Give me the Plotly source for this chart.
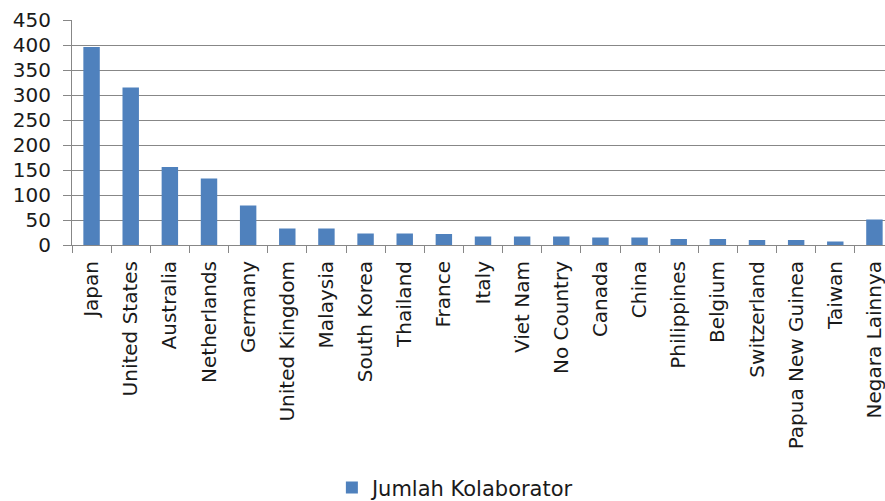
import plotly.graph_objects as go

countries = [
    'Japan', 'United States', 'Australia', 'Netherlands', 'Germany',
    'United Kingdom', 'Malaysia', 'South Korea', 'Thailand', 'France',
    'Italy', 'Viet Nam', 'No Country', 'Canada', 'China', 'Philippines',
    'Belgium', 'Switzerland', 'Papua New Guinea', 'Taiwan', 'Negara Lainnya',
]
collaborators = [396, 315, 156, 133, 79, 33, 33, 23, 23, 22,
                 17, 17, 17, 15, 15, 12, 12, 10, 10, 7, 51]
y_ticks = [0, 50, 100, 150, 200, 250, 300, 350, 400, 450]

FONT = 'DejaVu Sans'
GRID = '#878787'

fig = go.Figure()
fig.add_trace(go.Bar(
    x=countries, y=collaborators,
    name='Jumlah Kolaborator',
    marker=dict(color='#4f81bd', line=dict(width=0)),
    width=0.42,
))
fig.update_layout(
    width=885, height=501,
    paper_bgcolor='white', plot_bgcolor='white',
    margin=dict(l=72, r=0, t=20, b=256),
    font=dict(family=FONT, size=20, color='#1a1a1a'),
    showlegend=True,
    legend=dict(
        orientation='h', xref='container', yref='container',
        x=0.375, y=0.026, xanchor='left', yanchor='middle',
        font=dict(size=21), itemwidth=30,
    ),
)
fig.update_xaxes(
    type='category', range=[-0.5, 20.27], automargin=False,
    tickangle=-90, tickson='boundaries',
    ticks='outside', ticklen=7, tickcolor=GRID,
    showline=True, linecolor=GRID, linewidth=1,
    showgrid=False, ticklabelstandoff=7,
)
fig.update_yaxes(
    range=[0, 450], tickvals=y_ticks, automargin=False,
    ticks='outside', ticklen=8, tickcolor=GRID,
    showline=True, linecolor=GRID, linewidth=1,
    showgrid=True, gridcolor=GRID, gridwidth=1,
    zeroline=False, ticklabelstandoff=8,
)
# drop the default page margin so the figure sits at the window's corner
fig.write_html(
    'out.html',
    config={'displayModeBar': False},
    post_script="document.body.style.margin='0';",
)
